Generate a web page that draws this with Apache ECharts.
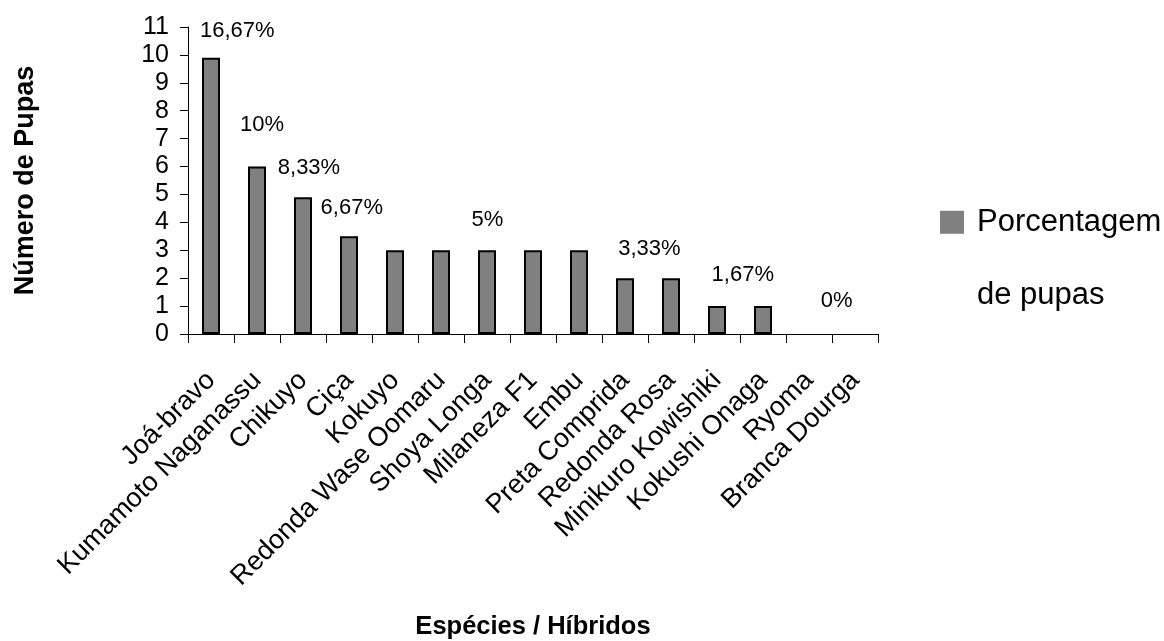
<!DOCTYPE html>
<html>
<head>
<meta charset="utf-8">
<script src="https://cdn.jsdelivr.net/npm/echarts@6/dist/echarts.min.js"></script>
<style>
  html, body { margin: 0; padding: 0; background: #fff; }
  #main { width: 1164px; height: 641px; }
</style>
</head>
<body>
<div id="main"></div>
<script>
// dados do gráfico
var especies = ['Joá-bravo', 'Kumamoto Naganassu', 'Chikuyo', 'Ciça', 'Kokuyo',
  'Redonda Wase Oomaru', 'Shoya Longa', 'Milaneza F1', 'Embu', 'Preta Comprida',
  'Redonda Rosa', 'Minikuro Kowishiki', 'Kokushi Onaga', 'Ryoma', 'Branca Dourga'];
var numPupas = [9.9, 6, 4.9, 3.5, 3, 3, 3, 3, 3, 2, 2, 1, 1, 0, 0];
var yTicks = [0, 11, 1]; // min, max, intervalo

// rótulos de porcentagem (posição em unidades de categoria / nº de pupas)
var pctTexto = ['16,67%', '10%', '8,33%', '6,67%', '5%', '3,33%', '1,67%', '0%'];
var pctX = [1.07, 1.61, 2.63, 3.56, 6.51, 10.03, 12.06, 14.1];
var pctY = [10.86, 7.49, 5.95, 4.52, 4.09, 3.05, 2.12, 1.19];

var pctData = [];
for (var i = 0; i < pctTexto.length; i++) {
  pctData.push({ name: pctTexto[i], value: [pctX[i], pctY[i]] });
}
// barras com valor zero não aparecem
var barData = numPupas.map(function (v) {
  return v === 0 ? { value: v, itemStyle: { borderWidth: 0 } } : v;
});

var fonte = '"Liberation Sans", Arial, sans-serif';
var myChart = echarts.init(document.getElementById('main'));
var option = {
  backgroundColor: '#fff',
  animation: false,
  textStyle: { fontFamily: fonte, color: '#000' },
  grid: { left: 188, right: 286, top: 27, bottom: 307, outerBoundsMode: 'none', containLabel: false },
  legend: {
    data: ['Porcentagem de pupas'],
    left: 935,
    top: 126,
    itemWidth: 24,
    itemHeight: 23,
    icon: 'rect',
    itemStyle: { color: '#808080', borderWidth: 0 },
    formatter: function () { return ' \n \nPorcentagem\n \nde pupas'; },
    textStyle: { fontFamily: fonte, fontSize: 31, lineHeight: 36.5, color: '#000', padding: [0, 0, 0, 8] }
  },
  xAxis: [{
    type: 'category',
    data: especies,
    name: 'Espécies / Híbridos',
    nameLocation: 'middle',
    nameGap: 280,
    nameTextStyle: { fontFamily: fonte, fontSize: 25.5, fontWeight: 'bold', color: '#000' },
    axisLine: { lineStyle: { color: '#000', width: 1 } },
    axisTick: { show: true, interval: 0, length: 9, lineStyle: { color: '#000' } },
    axisLabel: {
      interval: 0, rotate: 45, margin: 42,
      fontFamily: fonte, fontSize: 27, color: '#000'
    },
    splitLine: { show: false }
  }, {
    type: 'value', min: 0, max: especies.length, show: false
  }],
  yAxis: {
    type: 'value',
    min: yTicks[0],
    max: yTicks[1],
    interval: yTicks[2],
    name: 'Número de Pupas',
    nameLocation: 'middle',
    nameRotate: 90,
    nameGap: 149,
    nameTextStyle: { fontFamily: fonte, fontSize: 27, fontWeight: 'bold', color: '#000' },
    axisLine: { show: true, lineStyle: { color: '#000', width: 1 } },
    axisTick: { show: true, length: 8, lineStyle: { color: '#000' } },
    axisLabel: { margin: 19, fontFamily: fonte, fontSize: 25, color: '#000' },
    splitLine: { show: false }
  },
  series: [{
    name: 'Porcentagem de pupas',
    type: 'bar',
    data: barData,
    barWidth: 18,
    itemStyle: { color: '#808080', borderColor: '#000', borderWidth: 2 }
  }, {
    name: 'rotulos',
    type: 'scatter',
    xAxisIndex: 1,
    data: pctData,
    symbolSize: 0,
    silent: true,
    itemStyle: { opacity: 1 },
    label: {
      show: true,
      position: 'inside',
      formatter: '{b}',
      fontFamily: fonte,
      fontSize: 22,
      color: '#000',
      opacity: 1
    }
  }]
};
myChart.setOption(option);
</script>
</body>
</html>
